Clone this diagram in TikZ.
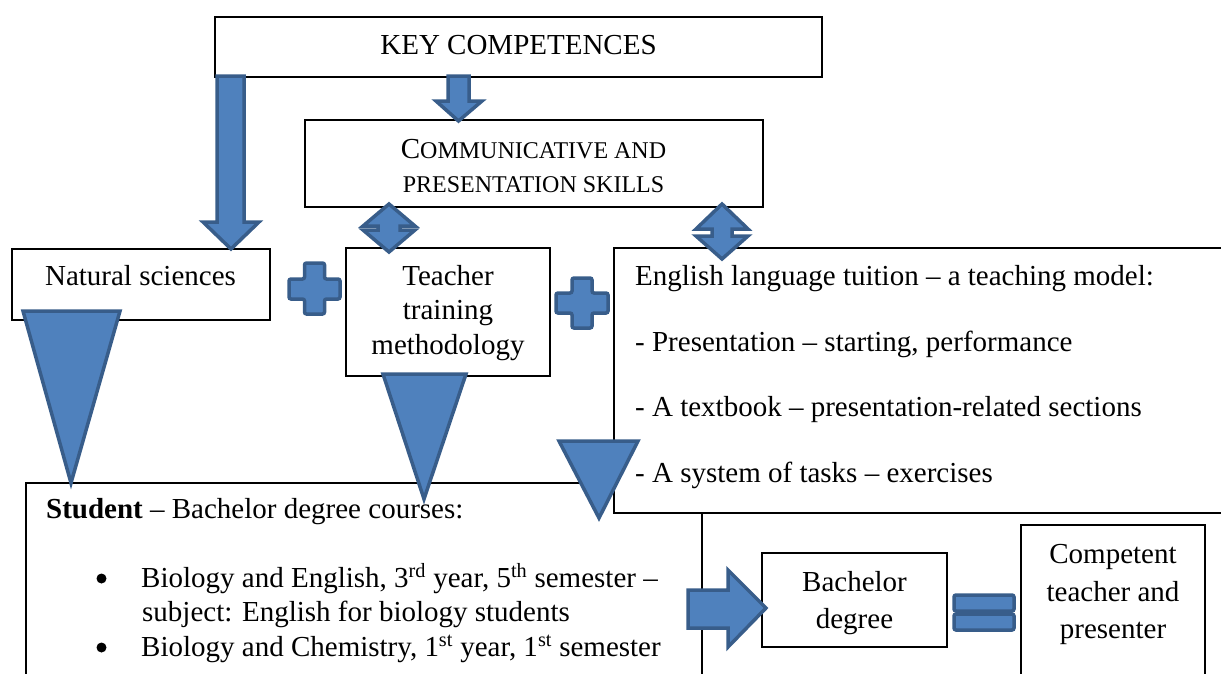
\documentclass[tikz,border=0pt]{standalone}
\usepackage{fontspec}
\setmainfont{Liberation Serif}
\definecolor{fillblue}{HTML}{4F81BD}
\definecolor{edgeblue}{HTML}{385D8A}
\tikzset{
  box/.style={draw=black, line width=1.2pt, fill=white, inner sep=0pt},
  txt/.style={inner sep=0pt, anchor=base, font=\fontsize{29}{34}\selectfont},
  ltxt/.style={inner sep=0pt, anchor=base west, font=\fontsize{29}{34}\selectfont},
  bulletdot/.style={circle, fill=black, inner sep=0pt, minimum size=10pt},
  blk/.style={fill=fillblue, draw=edgeblue, line width=3.5pt, line join=miter},
  blkr/.style={fill=fillblue, draw=edgeblue, line width=3.5pt, rounded corners=2pt},
}
\newcommand{\smc}[1]{{\fontsize{24}{34}\selectfont #1}}
\begin{document}
\begin{tikzpicture}[x=1pt,y=-1pt]
\useasboundingbox (0,0) rectangle (1221,673);
% boxes
\node[box, minimum width=607pt, minimum height=60pt] (key) at (518.5,47) {};
\node[box, minimum width=458pt, minimum height=87pt] (comm) at (534,163.5) {};
\node[box, minimum width=258pt, minimum height=71pt] (nat) at (141,284.5) {};
\node[box, minimum width=204pt, minimum height=128pt] (teach) at (448,312) {};
\node[box, minimum width=676pt, minimum height=217pt] (stud) at (364,591.5) {};
\node[box, minimum width=626pt, minimum height=265pt] (eng) at (927,380.5) {};
\node[box, minimum width=185pt, minimum height=94pt] (bach) at (854.5,600) {};
\node[box, minimum width=184pt, minimum height=175pt] (comp) at (1113,612.5) {};
% texts
\node[txt] (keyt) at (518.5,54) {KEY COMPETENCES};
\node[txt] (commt1) at (533.5,158) {C\smc{OMMUNICATIVE AND}};
\node[txt] (commt2) at (533.5,192) {\smc{PRESENTATION SKILLS}};
\node[txt] (natt) at (140.5,285) {Natural sciences};
\node[txt] (teacht1) at (448,285) {Teacher};
\node[txt] (teacht2) at (448,319.5) {training};
\node[txt] (teacht3) at (448,354) {methodology};
\node[ltxt] (engt1) at (635,285) {English language tuition – a teaching model:};
\node[ltxt] (engt2) at (635,351) {- Presentation – starting, performance};
\node[ltxt] (engt3) at (635,416) {- A textbook – presentation-related sections};
\node[ltxt] (engt4) at (635,482) {- A system of tasks – exercises};
\node[ltxt] (studt) at (46,518) {\textbf{Student} – Bachelor degree courses:};
\node[bulletdot] (bul1) at (101.5,578.5) {};
\node[bulletdot] (bul2) at (101.5,647.5) {};
\node[ltxt] (studt1) at (141,587) {Biology and English, 3\textsuperscript{rd} year, 5\textsuperscript{th} semester –};
\node[ltxt] (studt2) at (142,621) {subject: English for biology students};
\node[ltxt] (studt3) at (141,656) {Biology and Chemistry, 1\textsuperscript{st} year, 1\textsuperscript{st} semester};
\node[txt] (bacht1) at (854.5,591) {Bachelor};
\node[txt] (bacht2) at (854.5,628) {degree};
\node[txt] (compt1) at (1113,563) {Competent};
\node[txt] (compt2) at (1113,601) {teacher and};
\node[txt] (compt3) at (1113,638) {presenter};
% block arrows
\draw[blk] (217,76) -- (244,76) -- (244,222) -- (259,222) -- (231,249) -- (203,222) -- (217,222) -- cycle;
\draw[blk] (448,76) -- (469,76) -- (469,101) -- (482,101) -- (458.5,121) -- (436,101) -- (448,101) -- cycle;
\draw[blk] (389,204) -- (415,226) -- (400,226) -- (400,230) -- (415,230) -- (389,252) -- (363,230) -- (378,230) -- (378,226) -- (363,226) -- cycle;
\draw[blk] (722,204) -- (748,229) -- (732,229) -- (732,236) -- (748,236) -- (722,259) -- (696,236) -- (712,236) -- (712,229) -- (696,229) -- cycle;
% plus signs
\draw[blkr] (304.5,263) -- (324.5,263) -- (324.5,279) -- (340,279) -- (340,299) -- (324.5,299) -- (324.5,314) -- (304.5,314) -- (304.5,299) -- (289,299) -- (289,279) -- (304.5,279) -- cycle;
\draw[blkr] (572,278) -- (592,278) -- (592,293) -- (608,293) -- (608,313) -- (592,313) -- (592,328) -- (572,328) -- (572,313) -- (556,313) -- (556,293) -- (572,293) -- cycle;
% triangles
\draw[blk] (23,311) -- (120,311) -- (71,483) -- cycle;
\draw[blk] (383,374) -- (466,374) -- (424,499) -- cycle;
\draw[blk] (559,441) -- (638,441) -- (599,518) -- cycle;
% right arrow
\draw[blk] (688,590) -- (728,590) -- (728,570) -- (766,608) -- (728,647) -- (728,628) -- (688,628) -- cycle;
% equals
\draw[blkr] (954,595) rectangle (1014,611);
\draw[blkr] (954,614) rectangle (1014,630);
\end{tikzpicture}
\end{document}
